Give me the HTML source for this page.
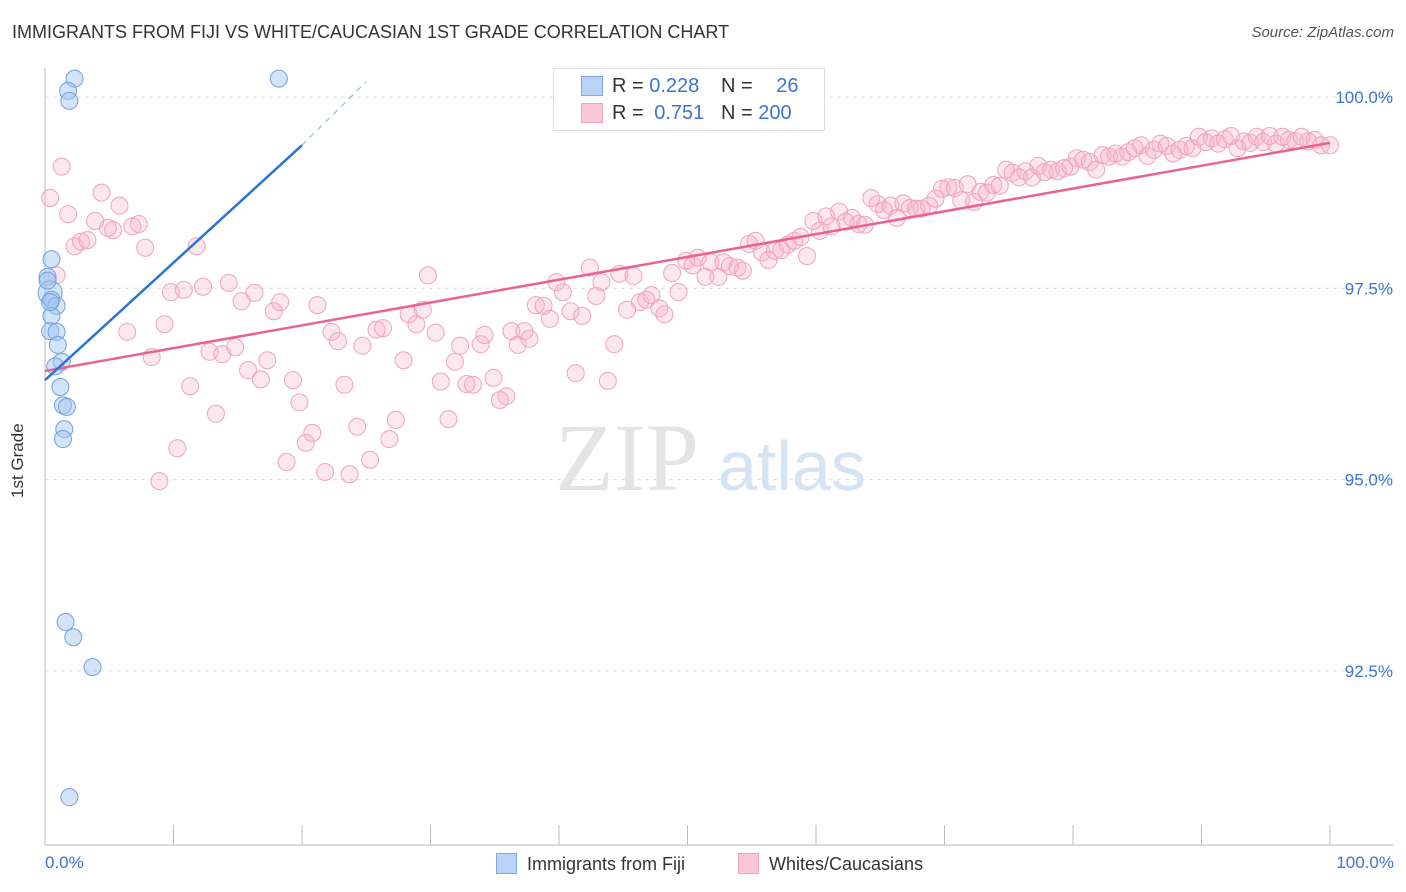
<!DOCTYPE html>
<html><head><meta charset="utf-8">
<style>
body{margin:0;background:#fff;font-family:"Liberation Sans",sans-serif;}
#wrap{position:relative;width:1406px;height:892px;overflow:hidden;}
.t{position:absolute;white-space:nowrap;}
</style></head>
<body>
<div id="wrap">
<div class="t" style="left:12px;top:22px;font-size:18px;color:#333;">IMMIGRANTS FROM FIJI VS WHITE/CAUCASIAN 1ST GRADE CORRELATION CHART</div>
<div class="t" style="right:12px;top:24px;font-size:15px;color:#555;font-style:italic;">Source: ZipAtlas.com</div>
<svg id="svg" width="1406" height="892" style="position:absolute;left:0;top:0"></svg>
</div>
<script>
const yTicks=[100,97.5,95,92.5];
const yTickLabels=["100.0%","97.5%","95.0%","92.5%"];
const fijiX=[2.3,18.2,1.8,1.9,0.5,0.2,0.4,0.5,0.9,0.5,0.4,0.9,1.0,1.3,0.8,1.2,1.4,1.7,1.5,1.4,1.6,2.2,3.7,1.9,0.2,0.4];
const fijiY=[100.24,100.24,100.08,99.95,97.88,97.65,97.44,97.35,97.27,97.14,96.94,96.93,96.76,96.54,96.48,96.21,95.97,95.95,95.66,95.53,93.14,92.94,92.55,90.85,97.60,97.32];
const whiteX=[0.4,0.9,1.3,1.8,2.3,2.8,3.3,3.9,4.4,4.9,5.3,5.8,6.4,6.8,7.3,7.8,8.3,8.9,9.3,9.8,10.3,10.8,11.3,11.8,12.3,12.8,13.3,13.8,14.3,14.8,15.3,15.8,16.3,16.8,17.3,17.8,18.3,18.8,19.3,19.8,20.3,20.8,21.2,21.8,22.3,22.8,23.3,23.7,24.3,24.7,25.3,25.8,26.3,26.8,27.3,27.9,28.3,28.9,29.4,29.8,30.4,30.8,31.4,31.9,32.3,32.8,33.3,33.9,34.2,34.9,35.4,35.9,36.3,36.8,37.3,37.7,38.2,38.8,39.3,39.8,40.3,40.9,41.3,41.8,42.4,42.9,43.3,43.8,44.3,44.7,45.3,45.8,46.3,46.8,47.2,47.8,48.2,48.8,49.3,49.9,50.4,50.8,51.4,51.8,52.4,52.8,53.3,53.9,54.3,54.8,55.3,55.8,56.3,56.8,57.3,57.8,58.3,58.8,59.3,59.8,60.3,60.8,61.2,61.8,62.3,62.8,63.3,63.8,64.3,64.8,65.3,65.8,66.3,66.8,67.3,67.8,68.2,68.8,69.3,69.8,70.3,70.8,71.3,71.8,72.3,72.8,73.3,73.8,74.3,74.8,75.3,75.8,76.3,76.8,77.3,77.8,78.3,78.8,79.3,79.8,80.3,80.8,81.3,81.8,82.3,82.8,83.3,83.8,84.3,84.8,85.3,85.8,86.3,86.8,87.3,87.8,88.3,88.8,89.3,89.8,90.3,90.8,91.3,91.8,92.3,92.8,93.3,93.8,94.3,94.8,95.3,95.8,96.3,96.8,97.3,97.8,98.3,98.8,99.3,100];
const whiteY=[98.68,97.67,99.09,98.47,98.05,98.11,98.13,98.38,98.75,98.29,98.26,98.58,96.93,98.31,98.34,98.03,96.60,94.98,97.03,97.45,95.41,97.48,96.22,98.05,97.52,96.67,95.86,96.64,97.57,96.73,97.33,96.43,97.44,96.31,96.56,97.20,97.32,95.23,96.30,96.01,95.48,95.61,97.28,95.10,96.93,96.81,96.24,95.07,95.69,96.75,95.26,96.96,96.98,95.53,95.78,96.56,97.16,97.03,97.22,97.67,96.92,96.28,95.79,96.54,96.75,96.25,96.24,96.77,96.89,96.33,96.04,96.09,96.94,96.76,96.94,96.84,97.28,97.27,97.10,97.58,97.45,97.20,96.39,97.14,97.77,97.40,97.58,96.29,96.77,97.69,97.22,97.66,97.32,97.35,97.41,97.24,97.16,97.70,97.45,97.86,97.80,97.90,97.65,97.84,97.65,97.84,97.79,97.77,97.73,98.08,98.12,97.97,97.87,97.99,98.00,98.07,98.12,98.17,97.92,98.38,98.25,98.44,98.31,98.50,98.37,98.42,98.34,98.33,98.68,98.60,98.52,98.58,98.42,98.61,98.55,98.54,98.54,98.58,98.67,98.80,98.82,98.81,98.65,98.86,98.63,98.76,98.75,98.85,98.84,99.05,99.01,98.95,99.03,98.95,99.10,99.02,99.05,99.03,99.07,99.09,99.20,99.18,99.15,99.05,99.24,99.22,99.26,99.22,99.28,99.33,99.37,99.23,99.31,99.39,99.36,99.26,99.31,99.36,99.33,99.48,99.41,99.46,99.39,99.45,99.49,99.33,99.42,99.40,99.48,99.41,99.49,99.39,99.48,99.44,99.42,99.48,99.42,99.44,99.37,99.37];
const fijiTrend=[[0,96.30],[20,99.37]];
const fijiTrendDash=[[20,99.37],[25,100.2]];
const whiteTrend=[[0,96.42],[100,99.40]];

const NS="http://www.w3.org/2000/svg";
const svg=document.getElementById('svg');
const X0=45,X1=1330,YTOP=97,PX25=191.3;
function sx(v){return X0+(X1-X0)*v/100;}
function sy(v){return YTOP+(100-v)/2.5*PX25;}
function mk(tag,attrs,parent){const e=document.createElementNS(NS,tag);for(const k in attrs)e.setAttribute(k,attrs[k]);(parent||svg).appendChild(e);return e;}

// gridlines + y labels
yTicks.forEach((v,i)=>{
  const g=mk('line',{x1:X0,x2:1393,y1:sy(v),y2:sy(v),stroke:'#ddd','stroke-dasharray':'4,4'});
  
  
  const t=mk('text',{x:1393,y:sy(v)+6,'text-anchor':'end','font-size':17,fill:'#3b74d1','font-family':'Liberation Sans, sans-serif'});
  t.textContent=yTickLabels[i];
  
  
});
// axes
const ya=mk('line',{x1:X0,x2:X0,y1:68,y2:845,stroke:'#bbb'});


const xa=mk('line',{x1:X0,x2:1393,y1:845,y2:845,stroke:'#bbb'});


for(let i=0;i<=10;i++){
  const tk=mk('line',{x1:sx(i*10),x2:sx(i*10),y1:825,y2:845,stroke:'#bbb'});
  
  
}
// watermark
const wm=mk('text',{x:555,y:490,'font-size':96,fill:'#e4e4e4','font-family':'Liberation Serif, serif'});
wm.textContent='ZIP';


const wm2=mk('text',{x:718,y:490,'font-size':70,fill:'#d6e3f3','font-family':'Liberation Sans, sans-serif'});
wm2.textContent='atlas';



// points
whiteX.forEach((x,i)=>{
  const c=mk('circle',{cx:sx(x),cy:sy(whiteY[i]),r:8.5,fill:'rgba(248,175,198,0.3)',stroke:'#f0a3bb','stroke-width':1});
  
  
});
fijiX.forEach((x,i)=>{
  const c=mk('circle',{cx:sx(x),cy:sy(fijiY[i]),r:i==6?12:8.5,fill:'rgba(160,195,240,0.45)',stroke:'#6ea2e2','stroke-width':1});
  
  
});
// trend lines
const wl=mk('line',{x1:sx(whiteTrend[0][0]),y1:sy(whiteTrend[0][1]),x2:sx(whiteTrend[1][0]),y2:sy(whiteTrend[1][1]),stroke:'#e8648e','stroke-width':2.5});


const fl=mk('line',{x1:sx(fijiTrend[0][0]),y1:sy(fijiTrend[0][1]),x2:sx(fijiTrend[1][0]),y2:sy(fijiTrend[1][1]),stroke:'#2a72d4','stroke-width':2.5});


const fd=mk('line',{x1:sx(fijiTrendDash[0][0]),y1:sy(fijiTrendDash[0][1]),x2:sx(fijiTrendDash[1][0]),y2:sy(fijiTrendDash[1][1]),stroke:'#9ab8e0','stroke-width':1.2,'stroke-dasharray':'6,5'});


</script>

<div class="t" style="left:8px;top:470px;font-size:17px;color:#333;transform:rotate(-90deg);transform-origin:left top;top:498px;">1st Grade</div>
<div class="t" style="left:45px;top:853px;font-size:17px;color:#3b74d1;">0.0%</div>
<div class="t" style="right:12px;top:853px;font-size:17px;color:#3b74d1;">100.0%</div>

<div style="position:absolute;left:553px;top:68px;width:270px;height:61px;border:1px solid #ddd;background:#fff;font-size:20px;">
  <div style="position:absolute;left:27px;top:7px;width:20px;height:18px;background:#b8d3f6;border:1px solid #7aaae0;"></div>
  <div class="t" style="left:58px;top:6px;color:#333;">R = <span style="color:#3b74d1">0.228</span></div>
  <div class="t" style="left:167px;top:6px;color:#333;">N = <span style="color:#3b74d1;margin-left:18px">26</span></div>
  <div style="position:absolute;left:27px;top:34px;width:20px;height:18px;background:#fbc7d6;border:1px solid #f0a3bb;"></div>
  <div class="t" style="left:58px;top:33px;color:#333;">R = <span style="color:#3b74d1;margin-left:5px">0.751</span></div>
  <div class="t" style="left:167px;top:33px;color:#333;">N = <span style="color:#3b74d1">200</span></div>
</div>

<div style="position:absolute;left:496px;top:853px;font-size:18px;color:#333;">
  <span style="display:inline-block;width:19px;height:19px;background:#b8d3f6;border:1px solid #7aaae0;vertical-align:-4px;margin-right:10px;"></span>Immigrants from Fiji</div>
<div style="position:absolute;left:738px;top:853px;font-size:18px;color:#333;">
  <span style="display:inline-block;width:19px;height:19px;background:#fbc7d6;border:1px solid #f0a3bb;vertical-align:-4px;margin-right:10px;"></span>Whites/Caucasians</div>
</body></html>
